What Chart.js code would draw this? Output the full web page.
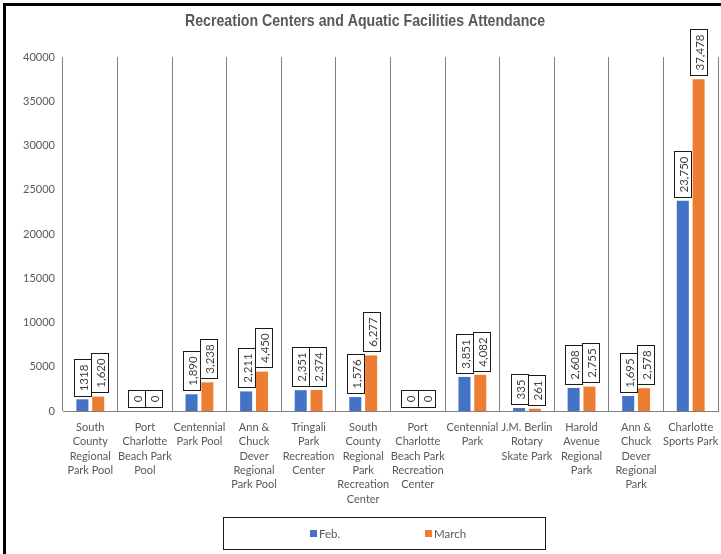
<!DOCTYPE html>
<html>
<head>
<meta charset="utf-8">
<script src="https://cdn.jsdelivr.net/npm/chart.js@4.4.1/dist/chart.umd.min.js"></script>
<style>
  html, body { margin: 0; padding: 0; background: #fff; }
  #wrap { position: relative; width: 721px; height: 554px; }
</style>
</head>
<body>
<div id="wrap"><canvas id="c" width="721" height="554"></canvas></div>
<script>
const chartTitle = "Recreation Centers and Aquatic Facilities Attendance";
const categories = [
  ["South", "County", "Regional", "Park Pool"],
  ["Port", "Charlotte", "Beach Park", "Pool"],
  ["Centennial", "Park Pool"],
  ["Ann &", "Chuck", "Dever", "Regional", "Park Pool"],
  ["Tringali", "Park", "Recreation", "Center"],
  ["South", "County", "Regional", "Park", "Recreation", "Center"],
  ["Port", "Charlotte", "Beach Park", "Recreation", "Center"],
  ["Centennial", "Park"],
  ["J.M. Berlin", "Rotary", "Skate Park"],
  ["Harold", "Avenue", "Regional", "Park"],
  ["Ann &", "Chuck", "Dever", "Regional", "Park"],
  ["Charlotte", "Sports Park"]
];
const seriesNames = ["Feb.", "March"];
const febValues   = [1318, 0, 1890, 2211, 2351, 1576, 0, 3851, 335, 2608, 1695, 23750];
const marchValues = [1620, 0, 3238, 4450, 2374, 6277, 0, 4082, 261, 2755, 2578, 37478];
const febLabels   = ["1318", "0", "1,890", "2,211", "2,351", "1,576", "0", "3,851", "335", "2,608", "1,695", "23,750"];
const marchLabels = ["1,620", "0", "3,238", "4,450", "2,374", "6,277", "0", "4,082", "261", "2,755", "2,578", "37,478"];
const yTicks = [0, 5000, 10000, 15000, 20000, 25000, 30000, 35000, 40000];

const FONT = "Lato, 'Noto Sans', sans-serif";
const TITLE_FONT = "'Liberation Sans', Arial, sans-serif";
const TEXT = '#595959';
const BLUE = '#4472C4';
const ORANGE = '#ED7D31';

const frame = {
  id: 'frame',
  beforeDraw(chart) {
    const ctx = chart.ctx;
    ctx.save();
    ctx.fillStyle = '#fff';
    ctx.fillRect(0, 0, chart.width, chart.height);
    ctx.fillStyle = '#000';
    ctx.fillRect(3, 3, chart.width - 3, 3);
    ctx.fillRect(3, 3, 3, chart.height - 3);
    ctx.fillStyle = TEXT;
    ctx.font = "bold 17px " + TITLE_FONT;
    ctx.textAlign = 'center';
    ctx.textBaseline = 'alphabetic';
    const w = ctx.measureText(chartTitle).width;
    const sx = 360 / w;
    ctx.translate(365, 26);
    ctx.scale(sx, 1);
    ctx.fillText(chartTitle, 0, 0);
    ctx.restore();
  }
};

const labelsBoxes = {
  id: 'labelsBoxes',
  afterDatasetsDraw(chart) {
    const ctx = chart.ctx;
    ctx.save();
    ctx.font = "11.5px " + FONT;
    const texts = [febLabels, marchLabels];
    const W = 17, PAD = 5, GAP = 4;
    const m0 = chart.getDatasetMeta(0), m1 = chart.getDatasetMeta(1);
    for (let i = 0; i < categories.length; i++) {
      const boxes = [];
      [m0, m1].forEach((meta, d) => {
        const el = meta.data[i];
        const t = texts[d][i];
        const tw = ctx.measureText(t).width;
        const h = tw + 2 * PAD;
        const bottom = el.y - GAP;
        let left = el.x - W / 2;
        if (d === 1) {
          const p = boxes[0];
          const top = bottom - h;
          if (left < p.right && top < p.bottom && bottom > p.top) {
            left = p.right;
          }
        }
        boxes.push({ left, right: left + W, top: bottom - h, bottom, t });
      });
      boxes.forEach(b => {
        const L = Math.round(b.left) + 0.5, T = Math.round(b.top) + 0.5, H = Math.round(b.bottom - b.top);
        ctx.fillStyle = '#fff';
        ctx.fillRect(L, T, W, H);
        ctx.strokeStyle = '#1a1a1a';
        ctx.lineWidth = 1;
        ctx.strokeRect(L, T, W, H);
        ctx.save();
        ctx.translate(L + W / 2 + 0.5, T + H / 2);
        ctx.rotate(-Math.PI / 2);
        ctx.fillStyle = '#404040';
        ctx.textAlign = 'center';
        ctx.textBaseline = 'middle';
        ctx.fillText(b.t, 0, 0.5);
        ctx.restore();
      });
    }
    ctx.restore();
  }
};

const legendBox = {
  id: 'legendBox',
  afterDraw(chart) {
    const ctx = chart.ctx;
    ctx.save();
    ctx.strokeStyle = '#1a1a1a';
    ctx.lineWidth = 1;
    ctx.strokeRect(223.5, 517.5, 322, 32);
    ctx.font = "11.5px " + FONT;
    ctx.textBaseline = 'middle';
    ctx.textAlign = 'left';
    const starts = [310, 425];
    chart.data.datasets.forEach((ds, i) => {
      ctx.fillStyle = ds.backgroundColor;
      ctx.fillRect(starts[i], 530, 7, 7);
      ctx.fillStyle = TEXT;
      ctx.fillText(ds.label, starts[i] + 9, 534);
    });
    ctx.restore();
  }
};

new Chart(document.getElementById('c'), {
  type: 'bar',
  data: {
    labels: categories,
    datasets: [
      { label: seriesNames[0], data: febValues, backgroundColor: BLUE },
      { label: seriesNames[1], data: marchValues, backgroundColor: ORANGE }
    ]
  },
  options: {
    responsive: false,
    animation: false,
    devicePixelRatio: 1,
    layout: { padding: { left: 0, right: 3, top: 57, bottom: 0 } },
    datasets: { bar: { categoryPercentage: 0.58, barPercentage: 0.76 } },
    plugins: { legend: { display: false }, title: { display: false }, tooltip: { enabled: false } },
    scales: {
      x: {
        grid: { display: true, offset: true, color: '#808080', lineWidth: 1, drawTicks: false },
        border: { display: true, color: '#808080', width: 1 },
        ticks: { autoSkip: false, maxRotation: 0, minRotation: 0, padding: 9, color: TEXT,
                 font: { family: FONT, size: 11, lineHeight: 1.31 } },
        afterFit(scale) { scale.height = 143; scale.paddingLeft = 0; scale.paddingRight = 0; }
      },
      y: {
        min: 0, max: 40000,
        afterBuildTicks(scale) { scale.ticks = yTicks.map(v => ({ value: v })); },
        grid: { display: false, drawTicks: false },
        border: { display: false },
        ticks: { padding: 8, color: TEXT, font: { family: FONT, size: 11 }, callback: v => String(v) },
        afterFit(scale) { scale.width = 63; scale.paddingTop = 0; scale.paddingBottom = 0; }
      }
    }
  },
  plugins: [frame, labelsBoxes, legendBox]
});
</script>
</body>
</html>
